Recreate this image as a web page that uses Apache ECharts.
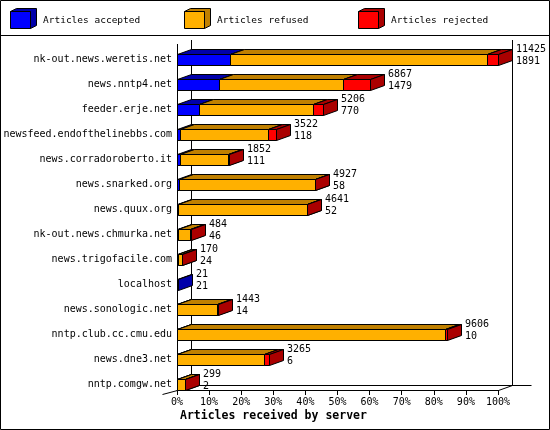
<!DOCTYPE html>
<html>
<head>
<meta charset="utf-8">
<script src="https://cdn.jsdelivr.net/npm/echarts@6/dist/echarts.min.js"></script>
<style>
html, body { margin: 0; padding: 0; background: #fff; }
#chart { width: 550px; height: 430px; }
</style>
</head>
<body>
<div id="chart"></div>
<script>
// one row per news server, top to bottom
var servers = ['nk-out.news.weretis.net', 'news.nntp4.net', 'feeder.erje.net',
    'newsfeed.endofthelinebbs.com', 'news.corradoroberto.it', 'news.snarked.org',
    'news.quux.org', 'nk-out.news.chmurka.net', 'news.trigofacile.com', 'localhost',
    'news.sonologic.net', 'nntp.club.cc.cmu.edu', 'news.dne3.net', 'nntp.comgw.net'];
var totals = [11425, 6867, 5206, 3522, 1852, 4927, 4641, 484, 170, 21, 1443, 9606, 3265, 299];
var accepted = [1891, 1479, 770, 118, 111, 58, 52, 46, 24, 21, 14, 10, 6, 2];
var refused = [9144, 4416, 4080, 3104, 1721, 4861, 4583, 434, 144, 0, 1424, 9536, 3079, 295];
var rejected = [390, 972, 356, 300, 20, 8, 6, 4, 2, 0, 5, 60, 180, 2];
var seriesNames = ['Articles accepted', 'Articles refused', 'Articles rejected'];
var tickLabels = ['0%', '10%', '20%', '30%', '40%', '50%', '60%', '70%', '80%', '90%', '100%'];

var frontColors = ['#0000ff', '#ffb000', '#ff0000'];
var darkColors = ['#0000aa', '#c08000', '#aa0000'];
var FONT = '"DejaVu Sans Mono", monospace';
var DX = 14, DY = 5, BAR_H = 11;

var maxTotal = Math.max.apply(null, totals);
var step = maxTotal / 10;

var chart = echarts.init(document.getElementById('chart'));

// [start, end, row] for each stacked part
function segments(k) {
    var parts = [accepted, refused, rejected];
    return servers.map(function (name, i) {
        var start = 0;
        for (var j = 0; j < k; j++) start += parts[j][i];
        return [start, start + parts[k][i], i];
    });
}

function renderBox(k) {
    return function (params, api) {
        var start = api.value(0), end = api.value(1);
        if (end <= start) return;
        var p0 = api.coord([start, api.value(2)]);
        var p1 = api.coord([end, api.value(2)]);
        var x0 = Math.round(p0[0]) + 0.5;
        var x1 = Math.round(p1[0]) + 0.5;
        var top = Math.round(p0[1] - BAR_H / 2) + 0.5;
        var bot = top + BAR_H;
        var line = { stroke: '#000', lineWidth: 1 };
        return {
            type: 'group',
            children: [{
                type: 'polygon',
                shape: { points: [[x0, top], [x0 + DX, top - DY], [x1 + DX, top - DY], [x1, top]] },
                style: Object.assign({ fill: darkColors[k] }, line)
            }, {
                type: 'polygon',
                shape: { points: [[x1, top], [x1 + DX, top - DY], [x1 + DX, bot - DY], [x1, bot]] },
                style: Object.assign({ fill: darkColors[k] }, line)
            }, {
                type: 'rect',
                shape: { x: x0, y: top, width: x1 - x0, height: BAR_H },
                style: Object.assign({ fill: frontColors[k] }, line)
            }]
        };
    };
}

function renderLabel(params, api) {
    var p = api.coord([api.value(0), api.value(1)]);
    return {
        type: 'text',
        style: {
            text: api.value(0) + '\n' + api.value(2),
            x: Math.round(p[0]) + DX + 4,
            y: p[1] - 15.5,
            font: '10px ' + FONT,
            fill: '#000',
            lineHeight: 11.5,
            verticalAlign: 'top'
        }
    };
}

// 3D walls and floor around the plot
function renderFrame(params, api) {
    var cs = params.coordSys;
    var left = cs.x + 0.5;
    var right = cs.x + cs.width + 0.5;
    var floor = cs.y + cs.height - 7 + 0.5;
    var back = floor - DY;
    var wallTop = cs.y - 7;
    var line = { stroke: '#000', lineWidth: 1, fill: null };
    function seg(a, b) {
        return { type: 'line', shape: { x1: a[0], y1: a[1], x2: b[0], y2: b[1] }, style: line };
    }
    return {
        type: 'group',
        children: [
            seg([left, cs.y - 3], [left, floor]),
            seg([left + DX, wallTop], [left + DX, back]),
            seg([right + DX, wallTop], [right + DX, back]),
            seg([left + DX, back], [right + DX + 19, back]),
            seg([right, floor], [right + DX, back]),
            seg([left - 15, floor + 4], [left, floor])
        ]
    };
}

var legendItems = [];
seriesNames.forEach(function (name, k) {
    var x = 10.5 + k * 174;
    legendItems.push({
        type: 'polygon',
        shape: { points: [[x, 11.5], [x + 6, 8.5], [x + 26, 8.5], [x + 26, 25.5], [x + 20, 28.5], [x + 20, 11.5]] },
        style: { fill: darkColors[k], stroke: '#000', lineWidth: 1 }
    }, {
        type: 'rect',
        shape: { x: x, y: 11.5, width: 20, height: 17 },
        style: { fill: frontColors[k], stroke: '#000', lineWidth: 1 }
    }, {
        type: 'text',
        style: {
            text: name, x: x + 32.5, y: 20.5, font: '9.5px ' + FONT,
            fill: '#000', verticalAlign: 'middle'
        }
    });
});

var series = [{
    type: 'custom',
    renderItem: renderFrame,
    data: [[0, 0]],
    silent: true
}];
seriesNames.forEach(function (name, k) {
    series.push({
        name: name,
        type: 'custom',
        renderItem: renderBox(k),
        encode: { x: [0, 1], y: 2 },
        data: segments(k)
    });
});
series.push({
    type: 'custom',
    renderItem: renderLabel,
    encode: { x: 0, y: 1 },
    data: servers.map(function (name, i) { return [totals[i], i, accepted[i]]; })
});

var option = {
    animation: false,
    title: {
        text: 'Articles received by server',
        left: 180,
        top: 410,
        padding: 0,
        textStyle: { fontFamily: FONT, fontSize: 11.5, fontWeight: 'bold', color: '#000' }
    },
    grid: { left: 177, width: 321, top: 47, height: 350, containLabel: false },
    xAxis: {
        type: 'value',
        min: 0,
        max: maxTotal,
        interval: step,
        offset: -7,
        axisLine: { show: true, lineStyle: { color: '#000', width: 1 } },
        axisTick: { show: true, length: 5, lineStyle: { color: '#000' } },
        axisLabel: {
            margin: 7,
            fontFamily: FONT,
            fontSize: 10,
            color: '#000',
            showMinLabel: true,
            showMaxLabel: true,
            formatter: function (v) { return tickLabels[Math.round(v / step)]; }
        },
        splitLine: { show: false }
    },
    yAxis: {
        type: 'category',
        data: servers,
        inverse: true,
        axisLine: { show: false },
        axisTick: { show: false },
        axisLabel: { margin: 5, fontFamily: FONT, fontSize: 10, color: '#000' }
    },
    graphic: legendItems.concat([{
        type: 'line',
        shape: { x1: 0, y1: 35.5, x2: 550, y2: 35.5 },
        style: { stroke: '#000', lineWidth: 1 }
    }, {
        type: 'rect',
        shape: { x: 0.5, y: 0.5, width: 549, height: 429 },
        style: { fill: null, stroke: '#000', lineWidth: 1 },
        z: 100
    }]),
    series: series
};

chart.setOption(option);
</script>
</body>
</html>
